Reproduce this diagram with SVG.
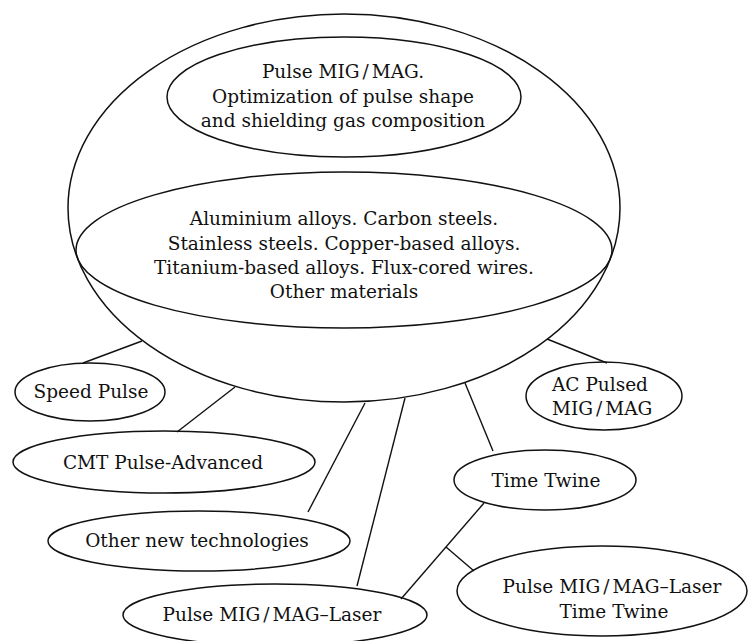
<svg xmlns="http://www.w3.org/2000/svg" width="749" height="641" viewBox="0 0 749 641">
<style>
.n{fill:none;stroke:#111;stroke-width:1.5}
.c line{stroke:#111;stroke-width:1.4}
text{font-family:"DejaVu Serif","Liberation Serif",serif;font-size:18.5px;fill:#111;text-anchor:middle}
</style>
<rect width="749" height="641" fill="#fff"/>
<g id="connectors" class="c">
<line x1="142" y1="341" x2="83" y2="363"/>
<line x1="235" y1="387" x2="177" y2="432"/>
<line x1="365" y1="403" x2="308" y2="512"/>
<line x1="405" y1="398" x2="357" y2="586"/>
<line x1="465" y1="383" x2="493" y2="451"/>
<line x1="547" y1="339" x2="607" y2="363"/>
<line x1="484" y1="503" x2="401" y2="599"/>
<line x1="446" y1="547" x2="474" y2="571"/>
</g>
<g id="sphere">
<ellipse class="n" cx="344" cy="208" rx="276" ry="194"/>
</g>
<g id="pulse-mig-mag">
<ellipse class="n" cx="344" cy="97" rx="177" ry="60"/>
<text x="343" y="78">Pulse MIG<tspan dx="3">/</tspan><tspan dx="3">MAG.</tspan></text>
<text x="343" y="103">Optimization of pulse shape</text>
<text x="343" y="127">and shielding gas composition</text>
</g>
<g id="materials">
<ellipse class="n" cx="344" cy="250" rx="268" ry="78"/>
<text x="344" y="225">Aluminium alloys. Carbon steels.</text>
<text x="344" y="250">Stainless steels. Copper-based alloys.</text>
<text x="344" y="274">Titanium-based alloys. Flux-cored wires.</text>
<text x="344" y="298">Other materials</text>
</g>
<g id="speed-pulse">
<ellipse class="n" cx="90" cy="392" rx="75" ry="29"/>
<text x="91" y="398">Speed Pulse</text>
</g>
<g id="cmt">
<ellipse class="n" cx="164" cy="462" rx="151" ry="31"/>
<text x="163" y="469">CMT Pulse-Advanced</text>
</g>
<g id="other-tech">
<ellipse class="n" cx="199" cy="541" rx="151" ry="30"/>
<text x="197" y="547">Other new technologies</text>
</g>
<g id="pulse-laser">
<ellipse class="n" cx="275" cy="615" rx="152" ry="31"/>
<text x="272" y="621">Pulse MIG<tspan dx="3">/</tspan><tspan dx="3">MAG–Laser</tspan></text>
</g>
<g id="ac-pulsed">
<ellipse class="n" cx="604" cy="396" rx="78" ry="34"/>
<text x="552" y="391" style="text-anchor:start">AC Pulsed</text>
<text x="552" y="415" style="text-anchor:start">MIG<tspan dx="3">/</tspan><tspan dx="3">MAG</tspan></text>
</g>
<g id="time-twine">
<ellipse class="n" cx="545" cy="480" rx="91" ry="30"/>
<text x="546" y="487">Time Twine</text>
</g>
<g id="pulse-laser-time-twine">
<ellipse class="n" cx="602" cy="591" rx="145" ry="45"/>
<text x="612" y="593">Pulse MIG<tspan dx="3">/</tspan><tspan dx="3">MAG–Laser</tspan></text>
<text x="614" y="618">Time Twine</text>
</g>
</svg>
